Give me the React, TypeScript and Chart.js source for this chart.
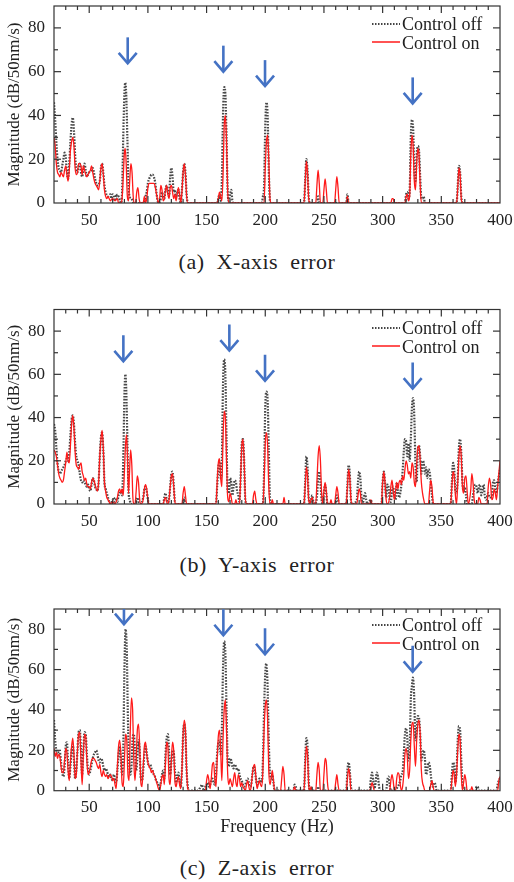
import React, { useEffect, useRef } from "react";
import { Chart, registerables } from "chart.js";
Chart.register(...registerables);

type Pt = [number, number];

const FONT = "'Liberation Serif', 'Times New Roman', serif";
const X_TICKS = [50, 100, 150, 200, 250, 300, 350, 400];
const Y_TICKS = [0, 20, 40, 60, 80];
const SERIES_NAMES = ["Control off", "Control on"];

// Panel (a) X-axis error
const A_OFF: Pt[] = [
  [20, 46], [21, 38], [22, 28], [23, 20], [24, 16], [25, 15], [26, 14], [27, 17], [28, 20], [29, 23], [30, 21], [31, 14], [32, 11], [33, 18], [34, 28], [35, 36], [36, 39], [37, 33], [38, 22], [39, 15], [40, 14], [41, 17], [42, 18], [43, 14], [44, 12], [45, 15], [46, 18], [47, 15], [48, 12], [49, 13], [50, 14], [52, 15], [53, 16], [55, 11], [57, 8], [59, 10], [60, 16], [61, 18], [62, 14], [63, 8], [64, 5], [66, 3], [68, 4], [69, 2], [70, 4], [71, 3], [72, 1], [73, 4], [74, 2], [75, 3], [76, 1], [77, 0], [78, 5], [79, 30], [80, 50], [80.7, 55], [81.5, 50], [82.5, 30], [83.5, 8], [84.5, 3], [86, 2], [88, 0], [96, 0], [98, 3], [99, 5], [100, 9], [101, 11], [102, 12], [103, 13], [104, 13], [105, 12], [106, 10], [107, 6], [108, 2], [109, 0], [111, 2], [112, 5], [113, 3], [114, 2], [115, 6], [116, 8], [117, 5], [118, 3], [119, 12], [120, 16], [121, 12], [122, 5], [123, 6], [124, 3], [126, 6], [127, 2], [128, 0], [129, 6], [130, 14], [131, 18], [132, 14], [133, 4], [134, 0], [159, 0], [160, 2], [161, 4], [162, 1], [163, 10], [164, 40], [165, 53], [166, 50], [167, 30], [168, 5], [169, 1], [170, 4], [171, 6], [172, 1], [173, 0], [197, 0], [198, 3], [199, 8], [200, 35], [201, 46], [202, 40], [203, 15], [204, 1], [205, 0], [233, 0], [234, 10], [235, 20], [236, 15], [237, 3], [238, 0], [244, 0], [245, 3], [246, 0], [269, 0], [270, 4], [271, 0], [319, 0], [320, 4], [321, 5], [322, 2], [323, 5], [324, 30], [325, 38], [326, 34], [327, 15], [328, 10], [329, 22], [330, 26], [331, 24], [332, 12], [333, 2], [334, 2], [335, 3], [336, 0], [363, 0], [364, 8], [365, 17], [366, 14], [367, 3], [368, 0], [400, 0],
];
const A_ON: Pt[] = [
  [20, 30], [21, 26], [22, 18], [23, 14], [24, 13], [25, 12], [26, 14], [27, 13], [28, 12], [29, 15], [30, 17], [31, 13], [32, 10], [33, 15], [34, 24], [35, 28], [36, 30], [37, 26], [38, 16], [39, 13], [40, 14], [41, 18], [42, 18], [43, 17], [44, 13], [45, 17], [46, 15], [47, 13], [48, 12], [49, 13], [50, 14], [51, 15], [52, 17], [53, 14], [54, 11], [55, 9], [56, 8], [57, 7], [58, 6], [59, 10], [60, 16], [61, 18], [62, 13], [63, 6], [64, 3], [65, 2], [66, 3], [67, 2], [68, 1], [70, 2], [72, 1], [74, 2], [75, 0], [77, 0], [78, 2], [79, 12], [80, 23], [80.7, 25], [81.5, 18], [82.5, 3], [83.5, 1], [84.5, 10], [85.5, 18], [86.5, 14], [87.5, 3], [88.5, 0], [89.5, 0], [90.5, 5], [91.5, 7], [92.5, 2], [93.5, 0], [96, 0], [97, 3], [98, 0], [99, 2], [100, 7], [101, 9], [102, 9], [103, 9], [104, 9], [105, 9], [106, 8], [107, 5], [108, 2], [109, 0], [110, 2], [111, 8], [112, 6], [113, 1], [114, 2], [115, 6], [116, 8], [117, 4], [118, 2], [119, 7], [120, 8], [121, 5], [122, 2], [123, 4], [124, 1], [125, 4], [126, 7], [127, 4], [128, 0], [129, 5], [130, 14], [131, 18], [132, 13], [133, 3], [134, 0], [159, 0], [160, 2], [161, 5], [162, 3], [163, 1], [164, 12], [165, 35], [166, 40], [167, 28], [168, 5], [169, 0], [199, 0], [200, 16], [201, 28], [202, 31], [203, 20], [204, 2], [205, 0], [233, 0], [234, 9], [235, 19], [236, 14], [237, 2], [238, 0], [243, 0], [244, 8], [245, 15], [246, 9], [247, 0], [249, 0], [250, 6], [251, 11], [252, 6], [253, 0], [259, 0], [260, 6], [261, 12], [262, 7], [263, 0], [269, 0], [270, 3], [271, 0], [307, 0], [308, 2], [309, 2], [310, 0], [319, 0], [320, 3], [321, 4], [322, 1], [323, 3], [324, 22], [325, 31], [326, 26], [327, 10], [328, 6], [329, 18], [330, 25], [331, 22], [332, 8], [333, 0], [363, 0], [364, 7], [365, 16], [366, 13], [367, 2], [368, 0], [400, 0],
];
const ARROWS_A: Pt[] = [[82.8, 63.8], [164.3, 60], [199.8, 53.4], [325.6, 45.5]];

// Panel (b) Y-axis error
const B_OFF: Pt[] = [
  [20, 37], [21, 34], [22, 26], [23, 19], [24, 15], [25, 14], [26, 15], [27, 16], [28, 17], [29, 18], [30, 20], [31, 21], [32, 20], [33, 24], [34, 32], [35, 39], [36, 41], [37, 37], [38, 28], [39, 22], [40, 20], [41, 18], [42, 14], [43, 11], [44, 10], [45, 11], [46, 10], [47, 9], [48, 8], [49, 9], [50, 7], [51, 6], [52, 9], [53, 12], [54, 11], [55, 8], [56, 7], [57, 6], [58, 10], [59, 22], [60, 31], [61, 33], [62, 25], [63, 10], [64, 7], [65, 5], [66, 3], [67, 1], [68, 0], [70, 2], [71, 3], [72, 1], [73, 2], [74, 1], [75, 4], [76, 5], [77, 6], [78, 4], [79, 20], [80, 50], [80.8, 60], [81.6, 52], [82.5, 30], [83.5, 6], [84.5, 2], [85.5, 0], [88, 0], [90, 1], [91, 3], [92, 1], [94, 0], [96, 3], [97, 7], [98, 8], [99, 6], [100, 2], [101, 0], [113, 0], [114, 3], [115, 5], [116, 2], [117, 0], [118, 2], [119, 8], [120, 14], [121, 15], [122, 9], [123, 1], [124, 0], [130, 0], [131, 3], [132, 0], [158, 0], [159, 8], [160, 17], [161, 19], [162, 12], [163, 20], [164, 55], [165, 67], [166, 60], [167, 30], [168, 6], [169, 5], [170, 12], [171, 10], [172, 4], [173, 8], [174, 11], [175, 10], [176, 6], [177, 4], [178, 1], [179, 12], [180, 28], [181, 30], [182, 20], [183, 2], [184, 0], [198, 0], [199, 15], [200, 45], [201, 52], [202, 48], [203, 25], [204, 3], [205, 0], [233, 0], [234, 10], [235, 22], [236, 17], [237, 3], [238, 0], [239, 2], [240, 4], [241, 1], [242, 0], [244, 3], [245, 12], [246, 15], [247, 10], [248, 2], [249, 0], [250, 5], [251, 9], [252, 5], [253, 0], [260, 0], [261, 4], [262, 2], [263, 0], [269, 0], [270, 9], [271, 18], [272, 14], [273, 2], [274, 0], [278, 2], [279, 10], [280, 15], [281, 12], [282, 3], [283, 0], [284, 3], [285, 5], [286, 2], [287, 0], [290, 2], [291, 0], [299, 0], [300, 10], [301, 15], [302, 10], [303, 3], [304, 9], [305, 8], [306, 2], [307, 1], [308, 6], [309, 8], [310, 4], [311, 2], [312, 10], [313, 6], [314, 3], [315, 5], [316, 9], [317, 15], [318, 24], [319, 30], [320, 29], [321, 22], [322, 28], [323, 20], [324, 30], [325, 45], [326, 49], [327, 40], [328, 18], [329, 10], [330, 25], [331, 27], [332, 22], [333, 14], [334, 20], [335, 19], [336, 14], [337, 17], [338, 12], [339, 16], [340, 15], [341, 10], [342, 4], [343, 0], [358, 0], [359, 10], [360, 19], [361, 16], [362, 6], [363, 5], [364, 12], [365, 26], [366, 30], [367, 24], [368, 10], [369, 6], [370, 8], [371, 4], [372, 0], [376, 0], [377, 4], [378, 7], [379, 9], [380, 8], [381, 5], [382, 8], [383, 9], [384, 4], [385, 6], [386, 9], [387, 4], [388, 2], [390, 5], [391, 3], [393, 4], [394, 10], [395, 11], [396, 7], [397, 5], [398, 9], [399, 13], [400, 16],
];
const B_ON: Pt[] = [
  [20, 25], [21, 24], [22, 22], [23, 18], [24, 14], [25, 12], [26, 11], [27, 10], [28, 11], [29, 15], [30, 19], [31, 24], [32, 20], [33, 19], [34, 27], [35, 37], [36, 41], [37, 35], [38, 24], [39, 18], [40, 17], [41, 16], [42, 18], [43, 19], [44, 15], [45, 13], [46, 11], [47, 12], [48, 9], [49, 8], [50, 8], [51, 7], [52, 10], [53, 12], [54, 11], [55, 9], [56, 7], [57, 6], [58, 10], [59, 22], [60, 30], [61, 34], [62, 26], [63, 10], [64, 6], [65, 3], [66, 2], [67, 1], [68, 0], [70, 1], [72, 0], [74, 3], [75, 6], [76, 7], [77, 5], [78, 7], [79, 4], [80, 15], [81, 28], [81.8, 32], [82.6, 22], [83.5, 5], [84.3, 14], [85.3, 25], [86.3, 18], [87.2, 3], [88, 0], [89, 0], [90, 6], [91, 13], [92, 10], [93, 2], [94, 0], [96, 2], [97, 7], [98, 9], [99, 7], [100, 2], [101, 0], [113, 0], [114, 2], [115, 3], [116, 1], [117, 0], [118, 2], [119, 8], [120, 13], [121, 14], [122, 8], [123, 1], [124, 0], [129, 0], [130, 5], [131, 8], [132, 4], [133, 0], [158, 0], [159, 10], [160, 19], [161, 21], [162, 12], [163, 8], [164, 30], [165, 43], [166, 40], [167, 20], [168, 3], [169, 1], [170, 5], [171, 3], [172, 0], [174, 0], [175, 2], [176, 0], [178, 0], [179, 12], [180, 27], [181, 30], [182, 20], [183, 3], [184, 0], [189, 0], [190, 4], [191, 6], [192, 2], [193, 0], [198, 0], [199, 10], [200, 28], [201, 33], [202, 27], [203, 8], [204, 0], [205, 0], [206, 2], [207, 0], [215, 0], [216, 3], [217, 0], [233, 0], [234, 8], [235, 17], [236, 13], [237, 2], [238, 0], [239, 2], [240, 3], [241, 0], [243, 0], [244, 10], [245, 22], [246, 27], [247, 20], [248, 5], [249, 0], [250, 6], [251, 10], [252, 6], [253, 0], [255, 0], [256, 2], [257, 0], [259, 0], [260, 4], [261, 8], [262, 5], [263, 0], [269, 0], [270, 8], [271, 16], [272, 12], [273, 2], [274, 0], [278, 0], [279, 4], [280, 7], [281, 5], [282, 0], [289, 0], [290, 2], [291, 0], [299, 0], [300, 10], [301, 15], [302, 10], [303, 2], [304, 0], [306, 3], [307, 8], [308, 11], [309, 6], [310, 2], [311, 6], [312, 10], [313, 7], [314, 10], [315, 11], [316, 9], [317, 13], [318, 11], [319, 16], [320, 20], [321, 18], [322, 14], [323, 15], [324, 12], [325, 19], [326, 17], [327, 10], [328, 8], [329, 18], [330, 26], [331, 27], [332, 20], [333, 10], [334, 5], [335, 2], [336, 0], [339, 0], [340, 6], [341, 11], [342, 8], [343, 1], [344, 0], [358, 0], [359, 8], [360, 15], [361, 13], [362, 4], [363, 0], [364, 10], [365, 22], [366, 27], [367, 22], [368, 8], [369, 5], [370, 12], [371, 13], [372, 6], [373, 0], [375, 6], [376, 14], [377, 10], [378, 2], [379, 0], [381, 0], [382, 3], [383, 2], [384, 0], [389, 0], [390, 8], [391, 12], [392, 9], [393, 2], [394, 3], [395, 7], [396, 5], [397, 2], [398, 8], [399, 14], [400, 20],
];
const ARROWS_B: Pt[] = [[79.1, 66], [169.4, 71], [199.8, 57], [325.6, 53.4]];

// Panel (c) Z-axis error
const C_OFF: Pt[] = [
  [20, 35], [21, 25], [22, 20], [23, 18], [24, 19], [25, 19], [26, 14], [27, 9], [28, 7], [29, 12], [30, 22], [31, 24], [32, 14], [33, 6], [34, 12], [35, 20], [36, 23], [37, 15], [38, 6], [39, 10], [40, 20], [41, 29], [42, 30], [43, 20], [44, 8], [45, 20], [46, 29], [47, 28], [48, 18], [49, 10], [50, 8], [51, 10], [52, 13], [53, 16], [54, 18], [55, 19], [56, 20], [57, 18], [58, 15], [59, 14], [60, 16], [61, 15], [62, 12], [63, 10], [64, 11], [65, 10], [66, 8], [67, 7], [68, 8], [69, 6], [70, 5], [71, 8], [72, 6], [73, 4], [74, 10], [75, 18], [76, 22], [77, 15], [78, 8], [79, 20], [80, 60], [81, 80], [82, 70], [83, 35], [84, 15], [85, 8], [86, 12], [87, 26], [88, 28], [89, 20], [90, 10], [91, 16], [92, 25], [93, 20], [94, 6], [95, 5], [96, 10], [97, 18], [98, 22], [99, 19], [100, 14], [101, 12], [102, 13], [103, 11], [104, 10], [105, 8], [106, 7], [107, 5], [108, 4], [109, 3], [110, 2], [111, 4], [112, 8], [113, 10], [114, 6], [115, 18], [116, 26], [117, 28], [118, 20], [119, 8], [120, 14], [121, 20], [122, 19], [123, 10], [124, 4], [125, 7], [126, 9], [127, 5], [128, 2], [129, 10], [130, 28], [131, 33], [132, 28], [133, 10], [134, 2], [135, 0], [143, 0], [144, 1], [145, 2], [146, 3], [147, 1], [148, 0], [149, 2], [150, 3], [151, 4], [152, 2], [153, 3], [154, 5], [155, 6], [156, 4], [157, 3], [158, 8], [159, 18], [160, 24], [161, 25], [162, 18], [163, 30], [164, 60], [165, 74], [166, 68], [167, 40], [168, 15], [169, 12], [170, 16], [171, 15], [172, 12], [173, 11], [174, 13], [175, 12], [176, 10], [177, 11], [178, 8], [179, 6], [180, 5], [181, 3], [182, 2], [183, 3], [184, 5], [185, 6], [186, 4], [187, 2], [188, 3], [189, 8], [190, 12], [191, 11], [192, 6], [193, 3], [194, 4], [195, 6], [196, 5], [197, 4], [198, 15], [199, 40], [200, 58], [200.8, 63], [201.8, 55], [203, 25], [204, 8], [205, 6], [206, 8], [207, 4], [208, 0], [224, 0], [225, 3], [226, 2], [227, 0], [233, 0], [234, 15], [235, 26], [236, 22], [237, 5], [238, 0], [244, 0], [245, 2], [246, 0], [269, 0], [270, 10], [271, 14], [272, 10], [273, 2], [274, 0], [289, 0], [290, 6], [291, 9], [292, 5], [293, 1], [294, 4], [295, 9], [296, 7], [297, 2], [298, 0], [303, 0], [304, 5], [305, 7], [306, 3], [307, 0], [313, 2], [315, 5], [316, 8], [317, 9], [318, 18], [319, 28], [320, 31], [321, 26], [322, 15], [323, 20], [324, 45], [325, 52], [325.8, 56], [326.8, 48], [328, 25], [329, 30], [330, 37], [331, 36], [332, 28], [333, 15], [334, 18], [335, 20], [336, 16], [337, 8], [338, 10], [339, 14], [340, 13], [341, 8], [342, 3], [343, 2], [344, 4], [345, 3], [346, 0], [358, 0], [359, 8], [360, 14], [361, 12], [362, 4], [363, 10], [364, 25], [365, 32], [366, 30], [367, 15], [368, 4], [369, 0], [379, 0], [380, 2], [381, 2], [382, 0], [397, 0], [398, 3], [399, 5], [400, 6],
];
const C_ON: Pt[] = [
  [20, 21], [21, 17], [22, 19], [23, 16], [24, 18], [25, 17], [26, 12], [27, 9], [28, 9], [29, 15], [30, 21], [31, 19], [32, 10], [33, 5], [34, 14], [35, 22], [36, 26], [37, 18], [38, 6], [39, 8], [40, 20], [41, 28], [42, 29], [43, 15], [44, 3], [45, 18], [46, 28], [47, 27], [48, 15], [49, 8], [50, 9], [51, 12], [52, 15], [53, 16], [54, 16], [55, 15], [56, 14], [57, 12], [58, 11], [59, 13], [60, 9], [61, 7], [62, 10], [63, 8], [64, 7], [65, 8], [66, 6], [67, 7], [68, 8], [69, 7], [70, 5], [71, 6], [72, 3], [73, 1], [74, 12], [75, 22], [76, 25], [77, 18], [78, 4], [79, 2], [80, 15], [81, 28], [82, 25], [83, 8], [84, 5], [85, 30], [86, 46], [87, 40], [88, 15], [89, 5], [90, 15], [91, 30], [92, 33], [93, 22], [94, 4], [95, 2], [96, 12], [97, 22], [98, 24], [99, 18], [100, 14], [101, 12], [102, 11], [103, 9], [104, 10], [105, 8], [106, 7], [107, 5], [108, 3], [109, 1], [110, 0], [111, 3], [112, 7], [113, 8], [114, 3], [115, 14], [116, 24], [117, 22], [118, 6], [119, 3], [120, 15], [121, 24], [122, 20], [123, 5], [124, 2], [125, 5], [126, 7], [127, 3], [128, 1], [129, 10], [130, 28], [131, 35], [132, 30], [133, 10], [134, 1], [135, 0], [149, 0], [150, 5], [151, 8], [152, 5], [153, 1], [154, 6], [155, 13], [156, 14], [157, 6], [158, 2], [159, 15], [160, 27], [161, 30], [162, 20], [163, 5], [164, 25], [165, 40], [166, 45], [167, 30], [168, 8], [169, 3], [170, 6], [171, 4], [172, 2], [173, 6], [174, 9], [175, 4], [176, 2], [177, 8], [178, 6], [179, 2], [180, 4], [181, 2], [182, 1], [183, 0], [184, 3], [185, 5], [186, 2], [187, 0], [188, 2], [189, 8], [190, 12], [191, 13], [192, 7], [193, 1], [194, 3], [195, 5], [196, 3], [197, 2], [198, 10], [199, 30], [200, 42], [201, 45], [202, 35], [203, 10], [204, 3], [205, 6], [206, 10], [207, 5], [208, 0], [213, 0], [214, 6], [215, 12], [216, 8], [217, 0], [224, 0], [225, 2], [226, 0], [233, 0], [234, 12], [235, 22], [236, 18], [237, 3], [238, 0], [239, 2], [240, 0], [243, 0], [244, 8], [245, 14], [246, 10], [247, 0], [249, 0], [250, 8], [251, 16], [252, 14], [253, 4], [254, 0], [259, 0], [260, 4], [261, 8], [262, 3], [263, 0], [269, 0], [270, 6], [271, 11], [272, 8], [273, 0], [289, 0], [290, 2], [291, 4], [292, 2], [293, 0], [306, 0], [307, 5], [308, 8], [309, 5], [310, 0], [311, 0], [312, 6], [313, 9], [314, 8], [315, 3], [316, 0], [317, 2], [318, 8], [319, 18], [320, 21], [321, 17], [322, 6], [323, 10], [324, 25], [325, 33], [326, 34], [327, 22], [328, 12], [329, 25], [330, 33], [331, 35], [332, 28], [333, 10], [334, 4], [335, 2], [336, 0], [340, 0], [341, 3], [342, 5], [343, 2], [344, 0], [358, 0], [359, 5], [360, 10], [361, 8], [362, 2], [363, 8], [364, 20], [365, 28], [366, 25], [367, 8], [368, 0], [369, 4], [370, 8], [371, 5], [372, 0], [375, 0], [376, 2], [377, 0], [398, 0], [399, 5], [400, 7],
];
const ARROWS_C: Pt[] = [[79.6, 82.5], [164.3, 77], [199.8, 67.6], [325.6, 58.9]];

const CAPTIONS = ["(a)  X-axis  error", "(b)  Y-axis  error", "(c)  Z-axis  error"];

type PanelCfg = {
  off: Pt[]; on: Pt[]; arrows: Pt[]; caption: string;
  top: number; height: number; padTop: number; xAxisH: number; xTitle: boolean; capY: number; legY: number;
};

const PANELS: PanelCfg[] = [
  { off: A_OFF, on: A_ON, arrows: ARROWS_A, caption: CAPTIONS[0], top: 0, height: 240, padTop: 6, xAxisH: 37, xTitle: false, capY: 262, legY: 19 },
  { off: B_OFF, on: B_ON, arrows: ARROWS_B, caption: CAPTIONS[1], top: 300, height: 240, padTop: 9.5, xAxisH: 36, xTitle: false, capY: 565, legY: 19.5 },
  { off: C_OFF, on: C_ON, arrows: ARROWS_C, caption: CAPTIONS[2], top: 600, height: 250, padTop: 9, xAxisH: 59.3, xTitle: true, capY: 868, legY: 17 },
];

const decoPlugin = {
  id: "deco",
  afterDatasetsDraw(chart: any, _args: any, opts: any) {
    const { ctx, chartArea: ca, scales } = chart;
    const x = scales.x, y = scales.y;
    const seg = (x1: number, y1: number, x2: number, y2: number) => {
      ctx.beginPath(); ctx.moveTo(x1, y1); ctx.lineTo(x2, y2); ctx.stroke();
    };
    ctx.save();
    // legend
    const ly1 = ca.top + opts.legY, ly2 = ly1 + 19;
    ctx.lineWidth = 1.8;
    ctx.strokeStyle = "#444";
    ctx.setLineDash([1.5, 1.5]);
    seg(ca.right - 128, ly1 - 1, ca.right - 100, ly1 - 1);
    ctx.setLineDash([]);
    ctx.lineWidth = 1.5;
    ctx.strokeStyle = "#ff1a1a";
    seg(ca.right - 128, ly2 - 2, ca.right - 100, ly2 - 2);
    ctx.fillStyle = "#222";
    ctx.font = `18px ${FONT}`;
    ctx.textBaseline = "middle";
    ctx.textAlign = "left";
    ctx.fillText(SERIES_NAMES[0], ca.right - 98, ly1);
    ctx.fillText(SERIES_NAMES[1], ca.right - 98, ly2);
    // frame + inner ticks
    ctx.strokeStyle = "#333";
    ctx.lineWidth = 1.2;
    for (let v = 30; v < 400; v += 10) {
      const px = x.getPixelForValue(v);
      const len = v % 50 === 0 ? 7 : 4;
      seg(px, ca.bottom, px, ca.bottom - len);
      seg(px, ca.top, px, ca.top + len);
    }
    for (let v = 10; v < 90; v += 10) {
      const py = y.getPixelForValue(v);
      const len = v % 20 === 0 ? 7 : 4;
      seg(ca.left, py, ca.left + len, py);
      seg(ca.right, py, ca.right - len, py);
    }
    ctx.strokeRect(ca.left, ca.top, ca.right - ca.left, ca.bottom - ca.top);
    // arrows
    ctx.beginPath();
    ctx.rect(ca.left, ca.top, ca.right - ca.left, ca.bottom - ca.top);
    ctx.clip();
    ctx.strokeStyle = "#4472c4";
    ctx.lineWidth = 2.6;
    ctx.lineJoin = "miter";
    for (const [f, v] of opts.arrows as Pt[]) {
      const px = x.getPixelForValue(f);
      const py = y.getPixelForValue(v);
      seg(px, py - 26, px, py - 1);
      ctx.beginPath();
      ctx.moveTo(px - 9, py - 10.5);
      ctx.lineTo(px, py);
      ctx.lineTo(px + 9, py - 10.5);
      ctx.stroke();
    }
    ctx.restore();
  },
};

function Panel({ p }: { p: PanelCfg }) {
  const ref = useRef<HTMLCanvasElement>(null);
  useEffect(() => {
    const chart = new Chart(ref.current!, {
      type: "line",
      data: {
        datasets: [
          {
            label: SERIES_NAMES[1],
            data: p.on.map(([fx, v]) => ({ x: fx, y: v })),
            borderColor: "#ff1a1a",
            borderWidth: 1.3,
            pointRadius: 0,
            cubicInterpolationMode: "monotone",
            order: 0,
          },
          {
            label: SERIES_NAMES[0],
            data: p.off.map(([fx, v]) => ({ x: fx, y: v })),
            borderColor: "rgba(40,40,40,0.85)",
            borderWidth: 2.2,
            borderDash: [1.6, 1.4],
            pointRadius: 0,
            cubicInterpolationMode: "monotone",
            order: 1,
          },
        ],
      },
      options: {
        responsive: false,
        animation: false,
        devicePixelRatio: 1,
        events: [],
        layout: { padding: { top: p.padTop, right: 14, left: 0, bottom: 0 } },
        plugins: {
          legend: { display: false },
          tooltip: { enabled: false },
          deco: { arrows: p.arrows, legY: p.legY },
        } as any,
        scales: {
          x: {
            type: "linear",
            min: 20,
            max: 400,
            grid: { display: false, drawTicks: false },
            border: { display: false },
            ticks: { font: { family: FONT, size: 17 }, color: "#222", padding: 7, maxRotation: 0, autoSkip: false },
            afterBuildTicks: (s: any) => { s.ticks = X_TICKS.map((v) => ({ value: v })); },
            afterFit: (s: any) => { s.height = p.xAxisH; s.paddingLeft = 0; s.paddingRight = 0; },
            title: {
              display: p.xTitle,
              text: "Frequency (Hz)",
              font: { family: FONT, size: 18 },
              color: "#222",
              padding: { top: 0, bottom: 12 },
            },
          },
          y: {
            type: "linear",
            min: 0,
            max: 90,
            grid: { display: false, drawTicks: false },
            border: { display: false },
            ticks: { font: { family: FONT, size: 17 }, color: "#222", padding: 9 },
            afterBuildTicks: (s: any) => { s.ticks = Y_TICKS.map((v) => ({ value: v })); },
            afterFit: (s: any) => { s.width = 54; s.paddingTop = 0; s.paddingBottom = 0; },
            title: {
              display: true,
              text: "Magnitude (dB/50nm/s)",
              font: { family: FONT, size: 17 },
              color: "#222",
              padding: { top: 4, bottom: 0 },
            },
          },
        },
      },
      plugins: [decoPlugin as any],
    } as any);
    return () => chart.destroy();
  }, [p]);
  return (
    <>
      <canvas
        ref={ref}
        width={514}
        height={p.height}
        style={{ position: "absolute", left: 0, top: p.top, width: 514, height: p.height, display: "block" }}
      />
      <div
        style={{
          position: "absolute",
          left: 0,
          top: p.capY - 13,
          width: 514,
          height: 26,
          lineHeight: "26px",
          textAlign: "center",
          fontFamily: FONT,
          fontSize: 22,
          letterSpacing: 0.5,
          whiteSpace: "pre",
          color: "#222",
        }}
      >
        {p.caption}
      </div>
    </>
  );
}

export default function App() {
  return (
    <div style={{ position: "absolute", left: 0, top: 0, width: 514, height: 882, background: "#fff", overflow: "hidden" }}>
      {PANELS.map((p, i) => (
        <Panel key={i} p={p} />
      ))}
    </div>
  );
}
